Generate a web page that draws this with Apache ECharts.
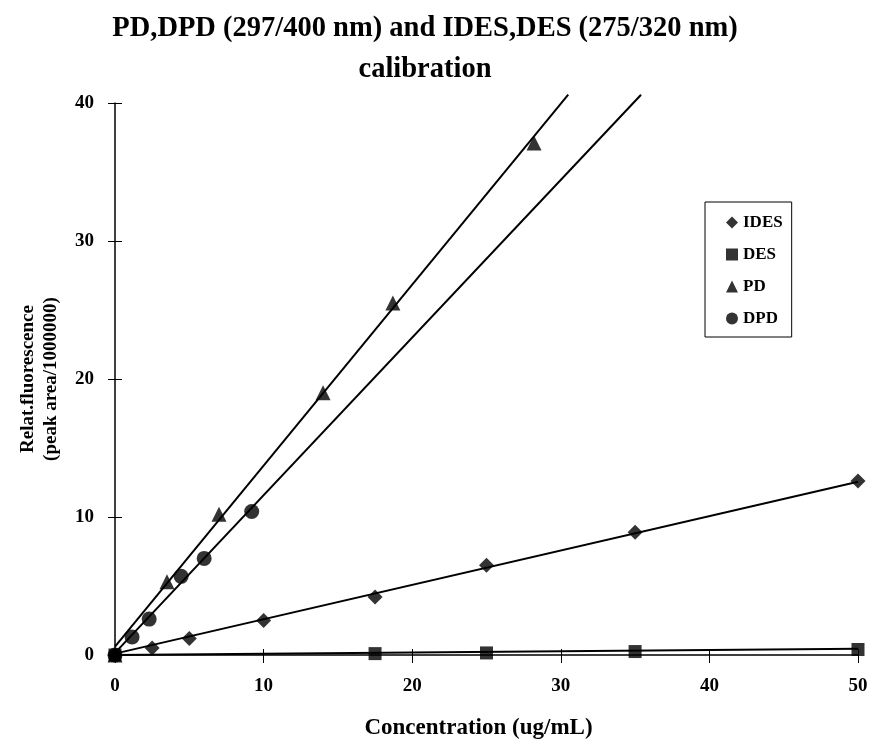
<!DOCTYPE html>
<html><head><meta charset="utf-8">
<script src="https://cdn.jsdelivr.net/npm/echarts@6/dist/echarts.min.js"></script>
<style>html,body{margin:0;padding:0;background:#fff}#c{width:870px;height:740px}</style>
</head><body><div id="c"></div>
<script>
// Data
const idesPts = [[0,0],[2.5,0.5],[5,1.2],[10,2.5],[17.5,4.2],[25,6.5],[35,8.9],[50,12.6]];
const desPts  = [[0,0],[17.5,0.1],[25,0.15],[35,0.25],[50,0.4]];
const pdPts   = [[0,0],[3.5,5.3],[7,10.2],[14,19.0],[18.7,25.5],[28.2,37.1]];
const dpdPts  = [[0,0],[1.15,1.3],[2.3,2.6],[4.45,5.7],[6,7.0],[9.2,10.4]];
// Calibration (fit) lines, endpoints
const idesFit = [[0,0.1],[50,12.55]];
const desFit  = [[0,0.0],[50,0.45]];
const pdFit   = [[0,0.6],[30.5,40.6]];
const dpdFit  = [[0,0.15],[35.4,40.6]];
const xTicks = [0,10,20,30,40,50];
const yTicks = [0,10,20,30,40];

const serif = 'Liberation Serif';
const chart = echarts.init(document.getElementById('c'));
const fitLine = (d) => ({type:'line', data:d, showSymbol:false, symbol:'none', clip:false,
  lineStyle:{color:'#000', width:2}, silent:true, z:2, legendHoverLink:false});
const sc = (name, d, sym, size) => ({type:'scatter', name, data:d, symbol:sym, symbolSize:size,
  itemStyle:{color:'#000'}, z:3});
chart.setOption({
  animation:false,
  title:{text:'PD,DPD (297/400 nm) and IDES,DES (275/320 nm)\ncalibration', left:420, top:3,
    textAlign:'center',
    textStyle:{fontFamily:serif, fontWeight:'bold', fontSize:28.5, lineHeight:41, color:'#000'}},
  grid:{left:115, right:12, top:103, bottom:85, outerBoundsMode:'none', containLabel:false},
  legend:{orient:'vertical', left:705, top:202,
    data:['IDES','DES','PD','DPD'], itemWidth:12, itemHeight:12, itemGap:15,
    padding:[12,9,10,21], borderColor:'#000', borderWidth:1,
    textStyle:{fontFamily:serif, fontWeight:'bold', fontSize:17, color:'#000'}},
  xAxis:[{type:'value', min:0, max:50, interval:10, name:'Concentration (ug/mL)', nameLocation:'middle', nameGap:62,
    nameTextStyle:{fontFamily:serif, fontWeight:'bold', fontSize:23, color:'#000', padding:[0,16,0,0]},
    axisLine:{lineStyle:{color:'#000', width:1.5}}, axisTick:{length:8, lineStyle:{color:'#000', width:1}},
    axisLabel:{fontFamily:serif, fontWeight:'bold', fontSize:19, color:'#000', margin:22,
      formatter:(v)=> xTicks.includes(v) ? String(v) : ''},
    splitLine:{show:false}},
    {type:'value', min:0, max:50, interval:10, position:'bottom', axisLine:{show:false},
     axisTick:{inside:true, length:6, lineStyle:{color:'#000', width:1}}, axisLabel:{show:false}, splitLine:{show:false}}],
  yAxis:[{type:'value', min:0, max:40, interval:10, name:'Relat.fluorescence\n(peak area/1000000)', nameLocation:'middle', nameGap:52,
    nameTextStyle:{fontFamily:serif, fontWeight:'bold', fontSize:19, lineHeight:23, color:'#000'},
    axisLine:{lineStyle:{color:'#000', width:1.5}}, axisTick:{length:7, lineStyle:{color:'#000', width:1}},
    axisLabel:{fontFamily:serif, fontWeight:'bold', fontSize:19, color:'#000', margin:21, padding:[0,0,10,0],
      formatter:(v)=> yTicks.includes(v) ? String(v) : ''},
    splitLine:{show:false}},
    {type:'value', min:0, max:40, interval:10, position:'left', axisLine:{show:false},
     axisTick:{inside:true, length:7, lineStyle:{color:'#000', width:1}}, axisLabel:{show:false}, splitLine:{show:false}}],
  series:[
    fitLine(idesFit), fitLine(desFit), fitLine(pdFit), fitLine(dpdFit),
    sc('IDES', idesPts, 'diamond', 15),
    sc('DES', desPts, 'rect', 13),
    sc('PD', pdPts, 'triangle', 15),
    sc('DPD', dpdPts, 'circle', 15)
  ]
});
</script></body></html>
